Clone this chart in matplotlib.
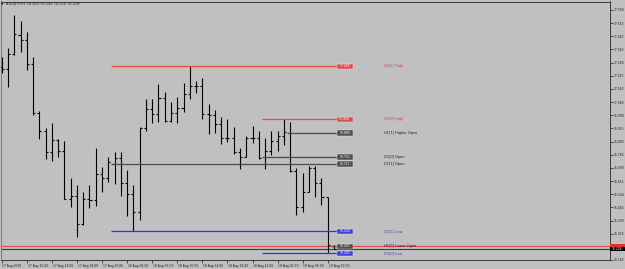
import matplotlib
matplotlib.use("Agg")
import matplotlib.pyplot as plt
from matplotlib.patches import Rectangle
from matplotlib.transforms import blended_transform_factory, ScaledTranslation

# ---------------- data ----------------
symbol_title = "AUDJPY,H1"
title_ohlc = [76.243, 76.249, 76.226, 76.228]

opens = [77.267, 77.252, 77.340, 77.450, 77.419, 77.280, 77.001, 76.900, 76.783, 76.849,
         76.788, 76.513, 76.532, 76.370, 76.513, 76.507, 76.655, 76.630, 76.712, 76.748,
         76.602, 76.541, 76.441, 76.916, 77.026, 76.995, 77.087, 76.959, 77.001, 77.030,
         77.109, 77.157, 77.159, 76.995, 76.992, 76.938, 76.858, 76.862, 76.783, 76.754,
         76.862, 76.858, 76.752, 76.786, 76.843, 76.874, 76.889, 76.674, 76.469, 76.555,
         76.691, 76.606, 76.522, 76.243]
highs = [77.324, 77.372, 77.562, 77.527, 77.467, 77.324, 77.014, 76.916, 76.948, 76.855,
         76.843, 76.634, 76.593, 76.555, 76.593, 76.802, 76.693, 76.754, 76.783, 76.783,
         76.678, 76.593, 76.921, 77.081, 77.081, 77.168, 77.121, 77.064, 77.092, 77.172,
         77.268, 77.187, 77.204, 77.052, 77.020, 76.982, 76.967, 76.921, 76.805, 76.872,
         76.931, 76.900, 76.862, 76.900, 76.900, 76.966, 76.950, 76.688, 76.659, 76.701,
         76.701, 76.630, 76.526, 76.249]
lows = [77.229, 77.149, 77.335, 77.349, 77.248, 76.992, 76.855, 76.739, 76.729, 76.750,
        76.510, 76.469, 76.294, 76.365, 76.460, 76.475, 76.551, 76.612, 76.598, 76.532,
        76.416, 76.329, 76.393, 76.900, 76.944, 76.950, 76.950, 76.952, 76.944, 77.011,
        77.081, 77.115, 76.967, 76.881, 76.891, 76.826, 76.836, 76.769, 76.682, 76.752,
        76.830, 76.741, 76.682, 76.764, 76.788, 76.821, 76.668, 76.421, 76.441, 76.551,
        76.526, 76.479, 76.203, 76.226]
closes = [77.252, 77.337, 77.451, 77.419, 77.280, 77.001, 76.900, 76.783, 76.849, 76.788,
          76.513, 76.532, 76.370, 76.513, 76.507, 76.655, 76.630, 76.726, 76.748, 76.602,
          76.541, 76.441, 76.916, 77.026, 76.995, 77.087, 76.959, 77.001, 77.030, 77.109,
          77.157, 77.159, 76.995, 76.992, 76.938, 76.858, 76.862, 76.783, 76.754, 76.862,
          76.858, 76.745, 76.786, 76.843, 76.874, 76.893, 76.674, 76.469, 76.555, 76.691,
          76.606, 76.522, 76.250, 76.228]

time_labels = ["17 Aug 2016", "17 Aug 10:00", "17 Aug 14:00", "17 Aug 18:00", "17 Aug 22:00",
               "18 Aug 02:00", "18 Aug 06:00", "18 Aug 10:00", "18 Aug 14:00", "18 Aug 18:00",
               "18 Aug 22:00", "19 Aug 02:00", "19 Aug 06:00", "19 Aug 10:00"]
time_label_bars = [0, 4, 8, 12, 16, 20, 24, 28, 32, 36, 40, 44, 48, 52]

price_ticks = [76.165, 76.240, 76.315, 76.390, 76.465, 76.540, 76.615, 76.690, 76.765, 76.840,
               76.915, 76.990, 77.065, 77.140, 77.215, 77.290, 77.365, 77.440, 77.515, 77.590]
price_tick_labels = ["76.165", "", "76.315", "76.390", "76.465", "76.540", "76.615", "76.690",
                     "76.765", "76.840", "76.915", "76.990", "77.065", "77.140", "77.215",
                     "77.290", "77.365", "77.440", "77.515", "77.590"]

level_names = ["D1[1] High", "D1[0] High", "H1[7] Higher Open", "D1[0] Open", "D1[1] Open",
               "D1[1] Low", "H1[0] Lower Open", "D1[0] Low"]
level_prices = [77.268, 76.966, 76.889, 76.752, 76.712, 76.329, 76.243, 76.203]
level_start_bars = [18, 42, 46, 42, 18, 18, 53, 42]
level_kinds = ["high", "high", "open", "open", "open", "low", "open", "low"]

ask_price = 76.246
bid_price = 76.228

# ---------------- styling ----------------
BG = "#c0c0c0"
line_colors = {"high": "#e24a4a", "open": "#4a4a4a", "low": "#3030e8"}
box_colors = {"high": "#e24a4a", "open": "#505050", "low": "#4040e0"}
text_colors = {"high": "#e03535", "open": "#1a1a1a", "low": "#3535d8"}

W, H, DPI = 625, 269, 100
fig = plt.figure(figsize=(W / DPI, H / DPI), dpi=DPI, facecolor=BG)

px_per_bar = 6.27
first_bar_px = 1.7
px_per_price = 175.44
ax_l, ax_r, ax_t, ax_b = 0.5, 609.5, 1.5, 260.0
ax = fig.add_axes([ax_l / W, 1 - ax_b / H, (ax_r - ax_l) / W, (ax_b - ax_t) / H])
ax.set_facecolor(BG)
ax.set_xlim((ax_l - first_bar_px) / px_per_bar, (ax_r - first_bar_px) / px_per_bar)
ax.set_ylim(76.165, 76.165 + (ax_b - ax_t) / px_per_price)

for s in ax.spines.values():
    s.set_color("#3a3a3a")
    s.set_linewidth(0.7)
ax.spines["left"].set_color("#7a7a7a")

# OHLC bars
n = len(opens)
idx = list(range(n))
tick = 0.33
ax.vlines(idx, lows, highs, color="black", lw=0.8, zorder=3)
ax.hlines(opens, [i - tick for i in idx], idx, color="black", lw=0.8, zorder=3)
ax.hlines(closes, idx, [i + tick for i in idx], color="black", lw=0.8, zorder=3)

# ask / bid lines
ax.axhline(ask_price, color="#e04848", lw=0.8, zorder=2)
ax.axhline(bid_price, color="#3c3c3c", lw=0.8, zorder=2)

# levels
box_x0 = (336.7 - first_bar_px) / px_per_bar
box_x1 = (352.7 - first_bar_px) / px_per_bar
text_x = (384.0 - first_bar_px) / px_per_bar
box_h = 5.2 / px_per_price
for name, p, sb, kind in zip(level_names, level_prices, level_start_bars, level_kinds):
    ax.hlines(p, sb - 0.5, box_x0, color=line_colors[kind], lw=0.9, zorder=4)
    ax.add_patch(Rectangle((box_x0, p - box_h / 2), box_x1 - box_x0, box_h,
                           facecolor=box_colors[kind], edgecolor="#e8e8e8", lw=0.3, zorder=5))
    ax.text((box_x0 + box_x1) / 2, p, f"{p:.3f}", color="white", fontsize=2.2,
            ha="center", va="center", zorder=6)
    ax.text(text_x, p, name, color=text_colors[kind], fontsize=2.5,
            ha="left", va="center", zorder=6)

# axes ticks
ax.yaxis.tick_right()
ax.set_yticks(price_ticks)
ax.set_yticklabels(price_tick_labels)
ax.tick_params(axis="y", direction="out", length=2.0, width=0.5, pad=0.8,
               labelsize=2.2, colors="#1a1a1a")
ax.set_xticks(time_label_bars)
ax.set_xticklabels(time_labels, ha="left")
ax.tick_params(axis="x", direction="out", length=2.5, width=0.5, pad=0.2,
               labelsize=2.2, colors="#1a1a1a")
offset = ScaledTranslation(0.8 / DPI, 0, fig.dpi_scale_trans)
for lab in ax.get_xticklabels():
    lab.set_transform(lab.get_transform() + offset)

# price-scale boxes for ask / bid
tr = blended_transform_factory(fig.transFigure, ax.transData)
bx0 = ax_r / W
bw = (W - ax_r) / W
fig.patches.append(Rectangle((bx0, ask_price - 2.2 / px_per_price), bw, 4.4 / px_per_price,
                             transform=tr, facecolor="#e03030", edgecolor="none", zorder=5,
                             figure=fig))
fig.patches.append(Rectangle((bx0, bid_price - 2.2 / px_per_price), bw, 4.4 / px_per_price,
                             transform=tr, facecolor="black", edgecolor="none", zorder=6,
                             figure=fig))
fig.text(bx0 + 2.5 / W, bid_price, f"{bid_price:.3f}", transform=tr, color="white",
         fontsize=2.2, ha="left", va="center", zorder=7)

# title
fig.text(1.2 / W, 1 - 4.2 / H, "\u25bc", fontsize=2.2, color="#202020", ha="left", va="center")
fig.text(6.0 / W, 1 - 4.2 / H,
         symbol_title + " " + " ".join(f"{v:.3f}" for v in title_ohlc),
         fontsize=2.6, color="#202020", ha="left", va="center")

fig.savefig("out.png", dpi=DPI, facecolor=BG)
